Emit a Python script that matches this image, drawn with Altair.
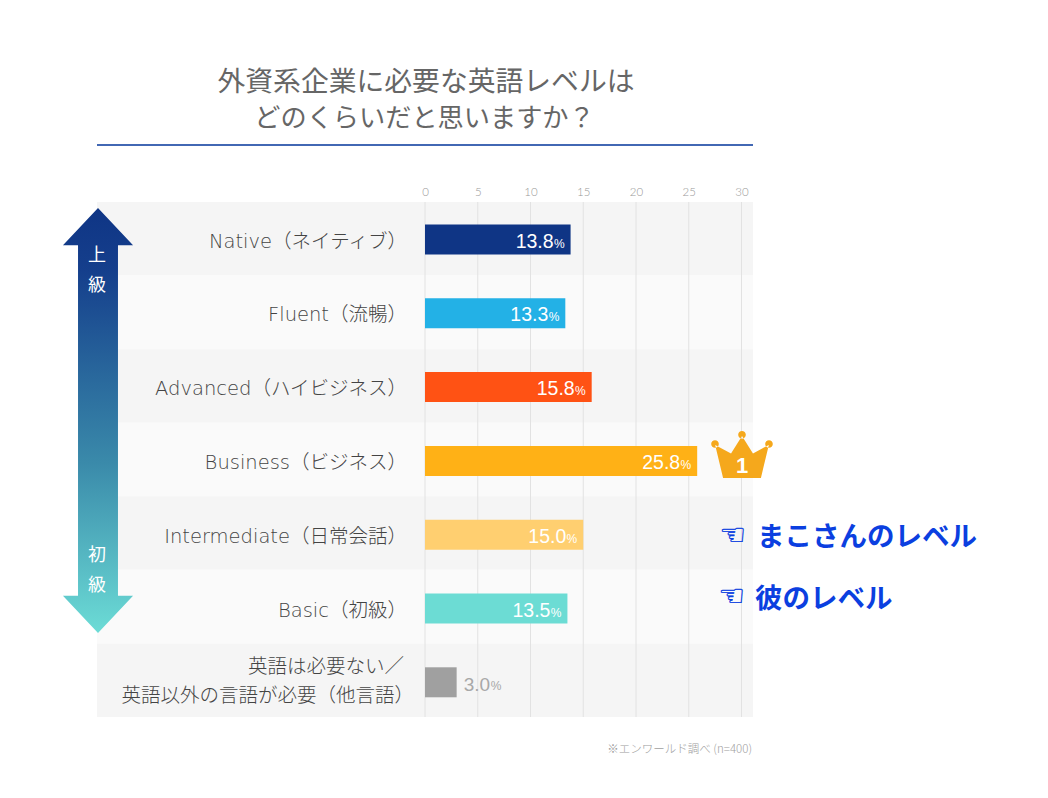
import altair as alt
import pandas as pd

categories = ["Native（ネイティブ）", "Fluent（流暢）", "Advanced（ハイビジネス）", "Business（ビジネス）",
              "Intermediate（日常会話）", "Basic（初級）", "other"]
values = [13.8, 13.3, 15.8, 25.8, 15.0, 13.5, 3.0]
bar_colors = ["#0f3585", "#23b1e6", "#ff5214", "#ffb116", "#ffcf70", "#6cdcd4", "#a0a0a0"]
row_shades = ["#f5f5f5", "#fafafa", "#f5f5f5", "#fafafa", "#f5f5f5", "#fafafa", "#f5f5f5"]
ticks = [0, 5, 10, 15, 20, 25, 30]

JP = "Noto Sans CJK JP"
LATJP = "DejaVu Sans, Noto Sans CJK JP"
LAT = "Liberation Sans"
X0, Y0 = 425, 202
W, H = 316.5, 515

df = pd.DataFrame({"cat": categories, "v": values, "bar": bar_colors, "row": row_shades})
df["num"] = df["v"].map(lambda v: f"{v:.1f}")
df["pct"] = "%"
main = df[df.cat != "other"]
oth = df[df.cat == "other"]

yrow = alt.Y("cat:N", axis=None, scale=alt.Scale(domain=categories, paddingInner=0, paddingOuter=0))
yenc = alt.Y("cat:N", axis=None, scale=alt.Scale(domain=categories, range=[0.6, 517.2],
                                                 paddingInner=0, paddingOuter=0))
xenc = alt.X("v:Q", scale=alt.Scale(domain=[0, 30], nice=False), title=None,
             axis=alt.Axis(orient="top", values=ticks, grid=False, domain=False, ticks=False,
                           labelColor="#989898", labelFontSize=11.5, labelFont="Lato", labelPadding=5,
                           labelFontWeight=300, labelFlush=False))


def anno(text, x, y, size, color, align="center", weight=None, font=JP, **kw):
    opts = dict(align=align, baseline="middle", fontSize=size, color=color, font=font, **kw)
    if weight:
        opts["fontWeight"] = weight
    return alt.Chart(alt.Data(values=[{"t": text}])).mark_text(**opts).encode(
        text="t:N", x=alt.value(x - X0), y=alt.value(y - Y0))


def shape(path, x, y, size, fill):
    return alt.Chart(alt.Data(values=[{"a": 1}])).mark_point(
        shape=path, filled=True, fill=fill, size=size, opacity=1, strokeWidth=0
    ).encode(x=alt.value(x - X0), y=alt.value(y - Y0))


rows = alt.Chart(df).mark_rect().encode(
    y=yrow, x=alt.value(97 - X0), x2=alt.value(753 - X0),
    fill=alt.Fill("row:N", scale=None))

grid = alt.Chart(pd.DataFrame({"t": ticks})).mark_rule(color="#e2e2e2", strokeWidth=1).encode(
    x=alt.X("t:Q", scale=alt.Scale(domain=[0, 30], nice=False)))

bars = alt.Chart(df).mark_bar(size=30).encode(
    y=yenc, x=xenc, fill=alt.Fill("bar:N", scale=None))

cat_labels = alt.Chart(main).mark_text(
    align="right", baseline="middle", fontSize=19.5, color="#444444", font=LATJP, fontWeight=300, dy=2
).encode(y=yenc, x=alt.value(407 - X0), text="cat:N")

nums = alt.Chart(main).mark_text(align="right", baseline="middle", fontSize=19.5, color="#ffffff", font=LAT, dx=-17, dy=2).encode(
    y=yenc, x=alt.X("v:Q"), text="num:N")
pcts = alt.Chart(main).mark_text(align="right", baseline="middle", fontSize=12, color="#ffffff", font=LAT, dx=-6, dy=4).encode(
    y=yenc, x=alt.X("v:Q"), text="pct:N")
num_o = alt.Chart(oth).mark_text(align="left", baseline="middle", fontSize=19, color="#a8a8a8", font=LAT, dx=7, dy=3).encode(
    y=yenc, x=alt.X("v:Q"), text="num:N")
pct_o = alt.Chart(oth).mark_text(align="left", baseline="middle", fontSize=12, color="#a8a8a8", font=LAT, dx=34, dy=4).encode(
    y=yenc, x=alt.X("v:Q"), text="pct:N")

gradient = alt.Gradient(
    gradient="linear", x1=0, x2=0, y1=0, y2=1,
    stops=[alt.GradientStop(offset=0, color="#0f3585"),
           alt.GradientStop(offset=0.15, color="#153f8c"),
           alt.GradientStop(offset=0.6, color="#3a8aaa"),
           alt.GradientStop(offset=1, color="#6cdcd6")])
arrow_path = ("M0,-1 L0.165,-0.825 L0.094,-0.825 L0.094,0.825 L0.165,0.825 "
              "L0,1 L-0.165,0.825 L-0.094,0.825 L-0.094,-0.825 L-0.165,-0.825 Z")
arrow = shape(arrow_path, 98, 420.5, 425 ** 2, gradient)

crown_path = ("M-0.62,0.75 L-0.88,-0.33 L-0.36,-0.05 L0,-0.62 L0.36,-0.05 L0.88,-0.33 L0.62,0.75 Z "
              "M-1.01,-0.36 a0.125,0.125 0 1,0 0.25,0 a0.125,0.125 0 1,0 -0.25,0 Z "
              "M0.76,-0.36 a0.125,0.125 0 1,0 0.25,0 a0.125,0.125 0 1,0 -0.25,0 Z "
              "M-0.125,-0.66 a0.125,0.125 0 1,0 0.25,0 a0.125,0.125 0 1,0 -0.25,0 Z")
crown = shape(crown_path, 742, 455, 61 ** 2, "#f5a81c")

title_rule = alt.Chart(alt.Data(values=[{"a": 1}])).mark_rule(color="#4268b4", strokeWidth=2).encode(
    x=alt.value(97 - X0), x2=alt.value(753 - X0), y=alt.value(145 - Y0))

layers = [
    rows, grid, bars, cat_labels, nums, pcts, num_o, pct_o, arrow, crown, title_rule,
    anno("英語は必要ない／", 404, 667, 19.5, "#444444", "right", 300),
    anno("英語以外の言語が必要（他言語）", 414, 696, 19.5, "#444444", "right", 300),
    anno("外資系企業に必要な英語レベルは", 426, 83, 27.8, "#666666"),
    anno("どのくらいだと思いますか？", 424.5, 119, 26.2, "#666666"),
    anno("上", 97, 256, 18, "#ffffff"),
    anno("級", 97, 286, 18, "#ffffff"),
    anno("初", 97, 556, 18, "#ffffff"),
    anno("級", 97, 586, 18, "#ffffff"),
    anno("1", 742, 466, 22, "#ffffff", weight="bold", font=LAT),
    anno("☜", 733, 536, 30, "#0b3fe0", font="DejaVu Sans", stroke="#0b3fe0", strokeWidth=0.4),
    anno("☜", 732, 597, 30, "#0b3fe0", font="DejaVu Sans", stroke="#0b3fe0", strokeWidth=0.4),
    anno("まこさんのレベル", 757, 538, 27.5, "#0b3fe0", "left", "bold"),
    anno("彼のレベル", 755, 600, 27.5, "#0b3fe0", "left", "bold"),
    anno("※エンワールド調べ (n=400)", 752, 750, 11.5, "#a0a0a0", "right", 300),
]

chart = alt.layer(*layers).resolve_scale(x="shared", y="independent").properties(
    width=W, height=H,
    padding={"left": X0 - 8, "top": Y0 - 8, "right": 298, "bottom": 66},
    autosize=alt.AutoSizeParams(type="none"),
    background="#ffffff",
).configure_view(stroke=None)

chart.save("out.html", embed_options={"renderer": "svg", "actions": False})
